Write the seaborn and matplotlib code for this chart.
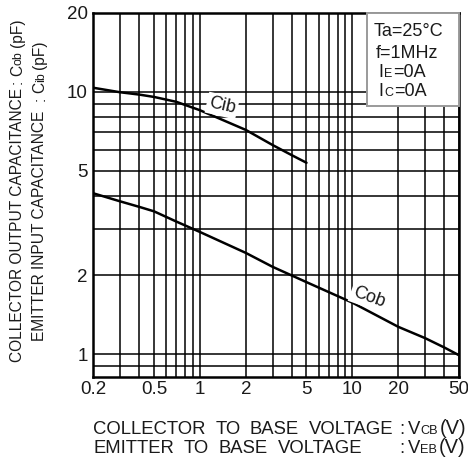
import matplotlib
matplotlib.use("Agg")
import matplotlib.pyplot as plt
import seaborn as sns
import pandas as pd
from matplotlib.transforms import IdentityTransform
from matplotlib.patches import Rectangle

# ---------------- data ----------------
vcb = [0.2, 0.3, 0.4, 0.5, 0.7, 1, 2, 3, 5, 10, 20, 30, 40, 50]
cob = [4.1, 3.82, 3.64, 3.5, 3.2, 2.92, 2.43, 2.15, 1.88, 1.57, 1.27, 1.15, 1.06, 0.99]

veb = [0.2, 0.3, 0.4, 0.5, 0.7, 1, 2, 3, 4, 5]
cib = [10.35, 9.95, 9.75, 9.55, 9.15, 8.5, 7.15, 6.26, 5.73, 5.36]

x_major = [0.2, 0.5, 1, 2, 5, 10, 20, 50]
x_major_labels = ["0.2", "0.5", "1", "2", "5", "10", "20", "50"]
x_minor = [0.3, 0.4, 0.6, 0.7, 0.8, 0.9, 3, 4, 6, 7, 8, 9, 30, 40]
y_major = [1, 2, 5, 10, 20]
y_major_labels = ["1", "2", "5", "10", "20"]
y_minor = [0.9, 3, 4, 6, 7, 8, 9]

conditions = ["Ta=25°C", "f=1MHz"]
xlabel_words_1 = ["COLLECTOR", "TO", "BASE", "VOLTAGE"]
xlabel_words_2 = ["EMITTER", "TO", "BASE", "VOLTAGE"]

# ---------------- figure ----------------
sns.set_theme(style="white")
plt.rcParams["font.family"] = ["Liberation Sans", "DejaVu Sans"]

W, H = 468, 463
fig = plt.figure(figsize=(W / 100, H / 100), dpi=100)
L, R, T, B = 93.3, 459.0, 12.7, 376.7
ax = fig.add_axes([L / W, 1 - B / H, (R - L) / W, (B - T) / H])

df_cob = pd.DataFrame({"V": vcb, "C": cob})
df_cib = pd.DataFrame({"V": veb, "C": cib})
sns.lineplot(data=df_cob, x="V", y="C", ax=ax, color="black", lw=1.8, zorder=4)
sns.lineplot(data=df_cib, x="V", y="C", ax=ax, color="black", lw=1.8, zorder=4)

ax.set_xscale("log")
ax.set_yscale("log")
ax.set_xlim(0.2, 50)
ax.set_ylim(0.82, 20)
ax.set_xticks(x_major)
ax.set_xticklabels(x_major_labels)
ax.set_xticks(x_minor, minor=True)
ax.set_xticklabels([], minor=True)
ax.set_yticks(y_major)
ax.set_yticklabels(y_major_labels)
ax.set_yticks(y_minor, minor=True)
ax.set_yticklabels([], minor=True)
ax.grid(True, which="both", color="black", lw=1.1)
ax.set_axisbelow(True)
ax.tick_params(which="both", length=0, labelsize=13.5, colors="#1a1a1a")
ax.tick_params(axis="x", pad=3)
ax.tick_params(axis="y", pad=4)
ax.set_xlabel("")
ax.set_ylabel("")
for s in ax.spines.values():
    s.set_color("black")
    s.set_linewidth(1.8)

# curve labels
bb = dict(facecolor="white", edgecolor="none", pad=1.5)
ax.text(1.40, 8.85, "Cib", rotation=-13, ha="center", va="center",
        fontsize=13, color="#1a1a1a", bbox=bb, zorder=5)
ax.text(12.8, 1.65, "Cob", rotation=-20, ha="center", va="center",
        fontsize=13, color="#1a1a1a", bbox=bb, zorder=5)

# conditions box
ax.add_patch(Rectangle((0.7476, 0.7437), 0.2524, 0.2563, transform=ax.transAxes,
                       facecolor="white", edgecolor="#9a9a9a", lw=1.4,
                       zorder=6, clip_on=False))

fig.canvas.draw()
rend = fig.canvas.get_renderer()


def measure(s, fs):
    t = fig.text(0, 0, s, fontsize=fs, transform=IdentityTransform())
    w = t.get_window_extent(rend).width
    t.remove()
    return w


def put(s, fs, x, y, rot=0, color="#1a1a1a"):
    if rot == 0:
        fig.text(x, H - y, s, fontsize=fs, ha="left", va="baseline",
                 transform=IdentityTransform(), color=color, zorder=10)
    else:
        fig.text(x, H - y, s, fontsize=fs, ha="left", va="baseline",
                 rotation=90, rotation_mode="anchor",
                 transform=IdentityTransform(), color=color, zorder=10)


def run(parts, x, y, rot=0, center=False):
    """parts: (text, fontsize, gap_px_before). x,y in px from top-left."""
    widths = [measure(p[0], p[1]) for p in parts]
    total = sum(widths) + sum(p[2] for p in parts)
    pos = -total / 2 if center else 0.0
    for (s, fs, gap), w in zip(parts, widths):
        pos += gap
        if rot == 0:
            put(s, fs, x + pos, y)
        else:
            put(s, fs, x, y - pos, rot=90)
        pos += w


def justify(words, fs, x0, x1, y):
    widths = [measure(w, fs) for w in words]
    gap = (x1 - x0 - sum(widths)) / (len(words) - 1)
    x = x0
    for w, wd in zip(words, widths):
        put(w, fs, x, y)
        x += wd + gap


# conditions text
run([(conditions[0], 13, 0)], 374, 36)
run([(conditions[1], 13, 0)], 376, 58)
run([("I", 13, 0), ("E", 9, 0.5), ("=0A", 13, 0.5)], 378.7, 77)
run([("I", 13, 0), ("C", 9, 0.5), ("=0A", 13, 0.5)], 378.7, 96.5)

# x-axis label (two lines)
fsx = 13.3
justify(xlabel_words_1, fsx, 93.3, 393, 434)
justify(xlabel_words_2, fsx, 93.3, 362, 453)
run([(":", fsx, 0), ("V", fsx, 3), ("CB", 9.2, 0.3), ("(V)", 14.5, 2)], 399.5, 434)
run([(":", fsx, 0), ("V", fsx, 3), ("EB", 9.2, 0.3), ("(V)", 14.5, 2)], 399.5, 453)

# y-axis label (two rotated lines, centred)
fsy = 11.2
run([("COLLECTOR OUTPUT CAPACITANCE", fsy, 0), (":", fsy, 4), ("C", fsy, 4),
     ("ob", fsy * 0.8, 0), ("(pF)", fsy, 3.5)], 22, 190.5, rot=90, center=True)
run([("EMITTER INPUT CAPACITANCE", fsy, 0), (":", fsy, 9), ("C", fsy, 4),
     ("ib", fsy * 0.8, 0), ("(pF)", fsy, 3.5)], 44.5, 190.5, rot=90, center=True)

fig.savefig("out.png", dpi=100)
